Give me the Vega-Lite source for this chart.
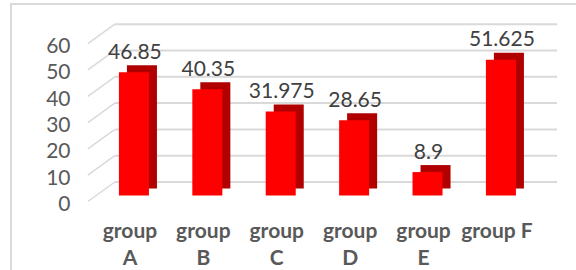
{
  "$schema": "https://vega.github.io/schema/vega-lite/v6.json",
  "width": 570,
  "height": 270,
  "autosize": {"type": "none"},
  "padding": {"left": 11, "top": 4, "right": 0, "bottom": 0},
  "background": "white",
  "config": {"view": {"stroke": "#D9D9D9", "strokeWidth": 2}, "font": "Lato"},
  "datasets": {
    "bars": [
      {"group": "group A", "value": 46.85},
      {"group": "group B", "value": 40.35},
      {"group": "group C", "value": 31.975},
      {"group": "group D", "value": 28.65},
      {"group": "group E", "value": 8.9},
      {"group": "group F", "value": 51.625}
    ],
    "ticks": [{"v": 0}, {"v": 10}, {"v": 20}, {"v": 30}, {"v": 40}, {"v": 50}, {"v": 60}]
  },
  "layer": [
    {
      "data": {"name": "ticks"},
      "mark": {"type": "rule", "color": "#D9D9D9", "strokeWidth": 1.5, "xOffset": -18, "x2Offset": 9, "yOffset": 6, "y2Offset": -13.5},
      "encoding": {
        "x": {"datum": "group A", "bandPosition": 0},
        "x2": {"datum": "group A", "bandPosition": 0},
        "y": {"field": "v", "type": "quantitative"},
        "y2": {"field": "v"}
      }
    },
    {
      "data": {"name": "ticks"},
      "mark": {"type": "rule", "color": "#D9D9D9", "strokeWidth": 2, "xOffset": 9, "x2Offset": 28, "yOffset": -13.5, "y2Offset": -13.5},
      "encoding": {
        "x": {"datum": "group A", "bandPosition": 0},
        "x2": {"datum": "group F", "bandPosition": 1},
        "y": {"field": "v", "type": "quantitative"},
        "y2": {"field": "v"}
      }
    },
    {
      "data": {"name": "bars"},
      "mark": {"type": "bar", "color": "#B00000", "width": {"band": 0.534}, "xOffset": 8, "yOffset": -7, "y2Offset": -7},
      "encoding": {
        "x": {"field": "group", "type": "nominal"},
        "y": {"field": "value", "type": "quantitative"}
      }
    },
    {
      "data": {"name": "bars"},
      "mark": {"type": "bar", "color": "#FF0000", "width": {"band": 0.534}},
      "encoding": {
        "x": {
          "field": "group",
          "type": "nominal",
          "sort": null,
          "scale": {"type": "band", "paddingInner": 0.234, "paddingOuter": 1, "align": 0.646},
          "axis": {
            "orient": "bottom",
            "title": null,
            "domain": false,
            "ticks": false,
            "labelAngle": 0,
            "labelAlign": "center",
            "labelFont": "Lato",
            "labelFontSize": 21,
            "labelFontWeight": "bold",
            "labelColor": "#595959",
            "labelLineHeight": 27,
            "labelBaseline": "alphabetic",
            "labelPadding": 0,
            "labelOffset": -4,
            "offset": -37,
            "labelExpr": "datum.value == 'group F' ? datum.value : split(datum.value, ' ')"
          }
        },
        "y": {
          "field": "value",
          "type": "quantitative",
          "scale": {"domain": [-29.85, 72.8], "nice": false, "zero": false},
          "axis": {
            "orient": "left",
            "title": null,
            "values": [0, 10, 20, 30, 40, 50, 60],
            "domain": false,
            "ticks": false,
            "grid": false,
            "labelFont": "Lato",
            "labelFontSize": 21,
            "labelColor": "#595959",
            "labelPadding": 2,
            "labelOffset": 9,
            "offset": -61
          }
        }
      }
    },
    {
      "data": {"name": "bars"},
      "mark": {"type": "text", "fontSize": 21, "font": "Lato", "color": "#404040", "baseline": "alphabetic", "align": "center", "dy": -13.5, "dx": 1},
      "encoding": {
        "x": {"field": "group", "type": "nominal"},
        "y": {"field": "value", "type": "quantitative"},
        "text": {"field": "value", "type": "nominal"}
      }
    }
  ]
}
